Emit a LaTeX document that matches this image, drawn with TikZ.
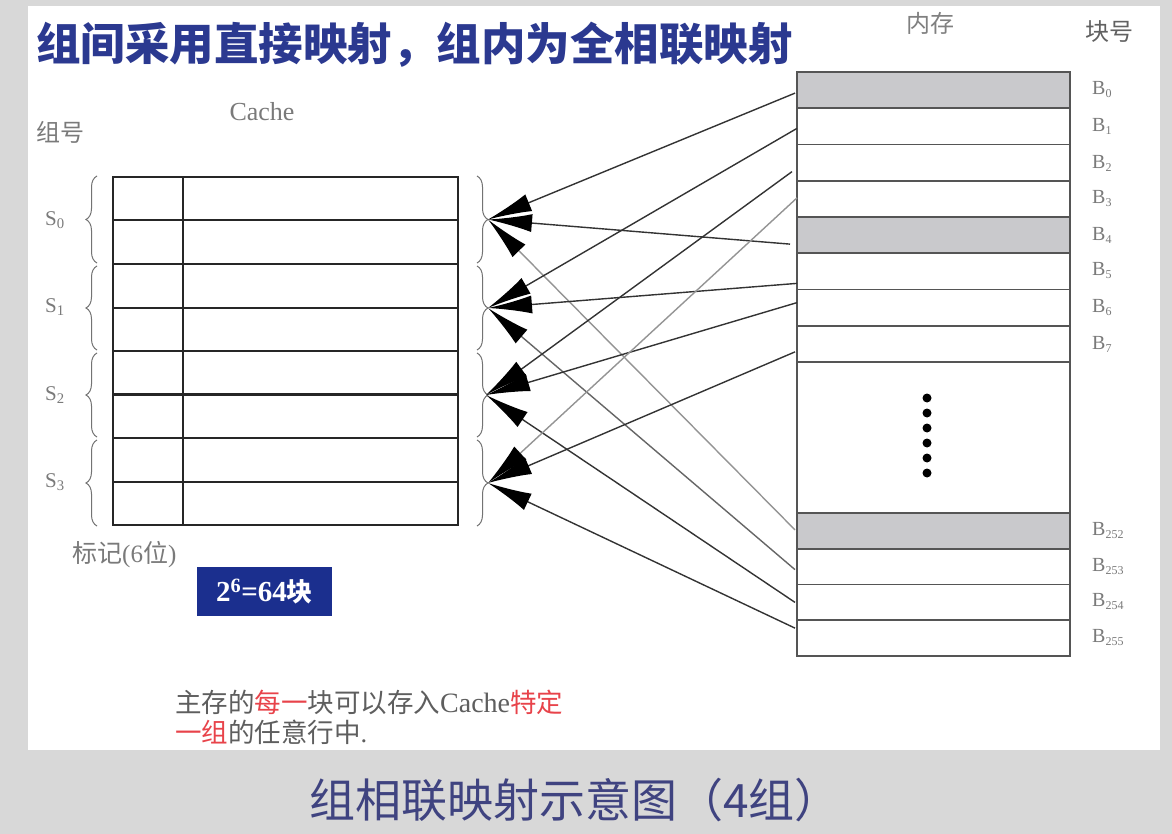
\documentclass[tikz,border=0pt]{standalone}
\usepackage{fontspec}
\setmainfont{Liberation Serif}
\newfontfamily\cjk{Noto Sans CJK SC}
\usetikzlibrary{arrows.meta,decorations.pathreplacing,calc}
\definecolor{titleblue}{HTML}{2B3990}
\definecolor{capblue}{HTML}{3F4380}
\definecolor{boxblue}{HTML}{1B2F8E}
\definecolor{lbl}{HTML}{7A7A7A}
\definecolor{notegray}{HTML}{5E5E5E}
\definecolor{memfill}{HTML}{C9C9CC}
\definecolor{memline}{HTML}{555555}
\definecolor{redtxt}{HTML}{E8434A}
\definecolor{bgout}{HTML}{D8D8D8}
\begin{document}
\begin{tikzpicture}[x=1pt,y=-1pt,
  mem/.style={draw=memline,line width=1.6pt,minimum width=273pt,inner sep=0pt,outer sep=0pt},
  memg/.style={mem,fill=memfill},
  conn/.style={draw=black!80,line width=1.4pt,-{Latex[length=44pt,width=18pt,color=black]}},
  connlight/.style={conn,draw=black!42},
  connmid/.style={conn,draw=black!60},
  brc/.style={draw=black!55,line width=1pt,decorate,decoration={brace,amplitude=11pt}},
  lab/.style={text=lbl,inner sep=0pt},
  tline/.style={draw=black!85,line width=2pt}]
\useasboundingbox (0,0) rectangle (1172,834);
\fill[bgout] (0,0) rectangle (1172,834);
\fill[white] (28,6) rectangle (1160,750);

% title and caption
\node[anchor=west,inner sep=0pt,text=titleblue,font=\cjk\bfseries\fontsize{44.5}{44.5}\selectfont] (title) at (36,45) {组间采用直接映射，组内为全相联映射};
\node[inner sep=0pt,text=capblue,font=\cjk\fontsize{46}{46}\selectfont] (caption) at (575,800) {组相联映射示意图（4组）};

% cache
\node[lab,font=\fontsize{26}{26}\selectfont] (cachelbl) at (262,112) {Cache};
\node[lab,font=\cjk\fontsize{24}{24}\selectfont] (zuhao) at (60,132) {组号};
\node[draw=black!85,line width=2pt,minimum width=345pt,minimum height=348pt,inner sep=0pt,outer sep=0pt] (cache) at (285.5,351) {};
\foreach \yy in {220.5,264,307.5,351,438,481.5}
  \draw[tline] (113,\yy) -- (458,\yy);
\draw[tline,line width=2.8pt] (113,394.5) -- (458,394.5);
\draw[tline] (183,177) -- (183,525);

% set labels and braces
\node[lab,font=\fontsize{21}{21}\selectfont] (s0) at (55,220) {S\textsubscript{0}};
\node[lab,font=\fontsize{21}{21}\selectfont] (s1) at (55,307) {S\textsubscript{1}};
\node[lab,font=\fontsize{21}{21}\selectfont] (s2) at (55,395) {S\textsubscript{2}};
\node[lab,font=\fontsize{21}{21}\selectfont] (s3) at (55,482) {S\textsubscript{3}};
\draw[brc] (97,263) -- (97,176);
\draw[brc] (97,350) -- (97,266);
\draw[brc] (97,437) -- (97,353);
\draw[brc] (97,526) -- (97,440);
\draw[brc] (477,176) -- (477,263);
\draw[brc] (477,266) -- (477,350);
\draw[brc] (477,353) -- (477,437);
\draw[brc] (477,440) -- (477,526);
\coordinate (t0) at (488,219.5);
\coordinate (t1) at (488,308);
\coordinate (t2) at (486,395);
\coordinate (t3) at (488,483);

% tag label and block box
\node[lab,anchor=west,font=\cjk\fontsize{25}{25}\selectfont] (tag) at (72,555) {标记{\rmfamily (6}位{\rmfamily )}};
\node[fill=boxblue,minimum width=135pt,minimum height=49pt,inner sep=0pt,text=white,font=\bfseries\fontsize{29}{29}\selectfont] (blk) at (264.5,591.5) {2\textsuperscript{6}=64{\cjk\fontsize{26}{26}\selectfont 块}};

% note
\node[anchor=west,inner sep=0pt,text=notegray,font=\cjk\fontsize{26.5}{26.5}\selectfont] (note1) at (175,702) {主存的\textcolor{redtxt}{每一}块可以存入{\rmfamily\fontsize{28}{28}\selectfont Cache}\textcolor{redtxt}{特定}};
\node[anchor=west,inner sep=0pt,text=notegray,font=\cjk\fontsize{26.5}{26.5}\selectfont] (note2) at (175,732) {\textcolor{redtxt}{一组}的任意行中{\rmfamily .}};

% memory
\node[lab,font=\cjk\fontsize{24}{24}\selectfont,text=black!50] (neicun) at (930,23) {内存};
\node[lab,font=\cjk\fontsize{24}{24}\selectfont,text=black!62] (kuaihao) at (1109,32) {块号};
\node[memg,minimum height=36.25pt] (m0) at (933.5,90.125) {};
\node[mem,minimum height=36.25pt] (m1) at (933.5,126.375) {};
\node[mem,minimum height=36.25pt] (m2) at (933.5,162.625) {};
\node[mem,minimum height=36.25pt] (m3) at (933.5,198.875) {};
\node[memg,minimum height=36.25pt] (m4) at (933.5,235.125) {};
\node[mem,minimum height=36.25pt] (m5) at (933.5,271.375) {};
\node[mem,minimum height=36.25pt] (m6) at (933.5,307.625) {};
\node[mem,minimum height=36.25pt] (m7) at (933.5,343.875) {};
\node[mem,minimum height=151pt] (mgap) at (933.5,437.5) {};
\node[memg,minimum height=35.75pt] (m252) at (933.5,530.875) {};
\node[mem,minimum height=35.75pt] (m253) at (933.5,566.625) {};
\node[mem,minimum height=35.75pt] (m254) at (933.5,602.375) {};
\node[mem,minimum height=35.75pt] (m255) at (933.5,638.125) {};
\foreach \yy in {398,413,428,443,458,473}
  \fill (927,\yy) circle (4.5);

% block labels
\foreach \nm/\yy in {0/90,1/126,2/163,3/199,4/235,5/271,6/308,7/344,252/531,253/567,254/602,255/638}
  \node[lab,anchor=west,font=\fontsize{20}{20}\selectfont] (b\nm) at (1092,\yy) {B{\fontsize{12}{12}\selectfont\raisebox{-3pt}{\nm}}};

% connectors
\draw[conn] ($(m0.west)+(-2,3)$) -- (t0);
\draw[conn] ($(m4.west)+(-7,9)$) -- (t0);
\draw[connlight] ($(m252.west)+(-2,-1)$) -- (t0);
\draw[conn] ($(m1.west)+(0,2)$) -- (t1);
\draw[conn] ($(m5.west)+(0,12)$) -- (t1);
\draw[connmid] ($(m253.west)+(-2,3)$) -- (t1);
\draw[conn] ($(m2.west)+(-5,9)$) -- (t2);
\draw[conn] ($(m6.west)+(0,-5)$) -- (t2);
\draw[conn] ($(m254.west)+(-2,0)$) -- (t2);
\draw[connlight] ($(m3.west)+(0,-1)$) -- (t3);
\draw[conn] ($(m7.west)+(-2,8)$) -- (t3);
\draw[conn] ($(m255.west)+(-2,-10)$) -- (t3);
\end{tikzpicture}
\end{document}
